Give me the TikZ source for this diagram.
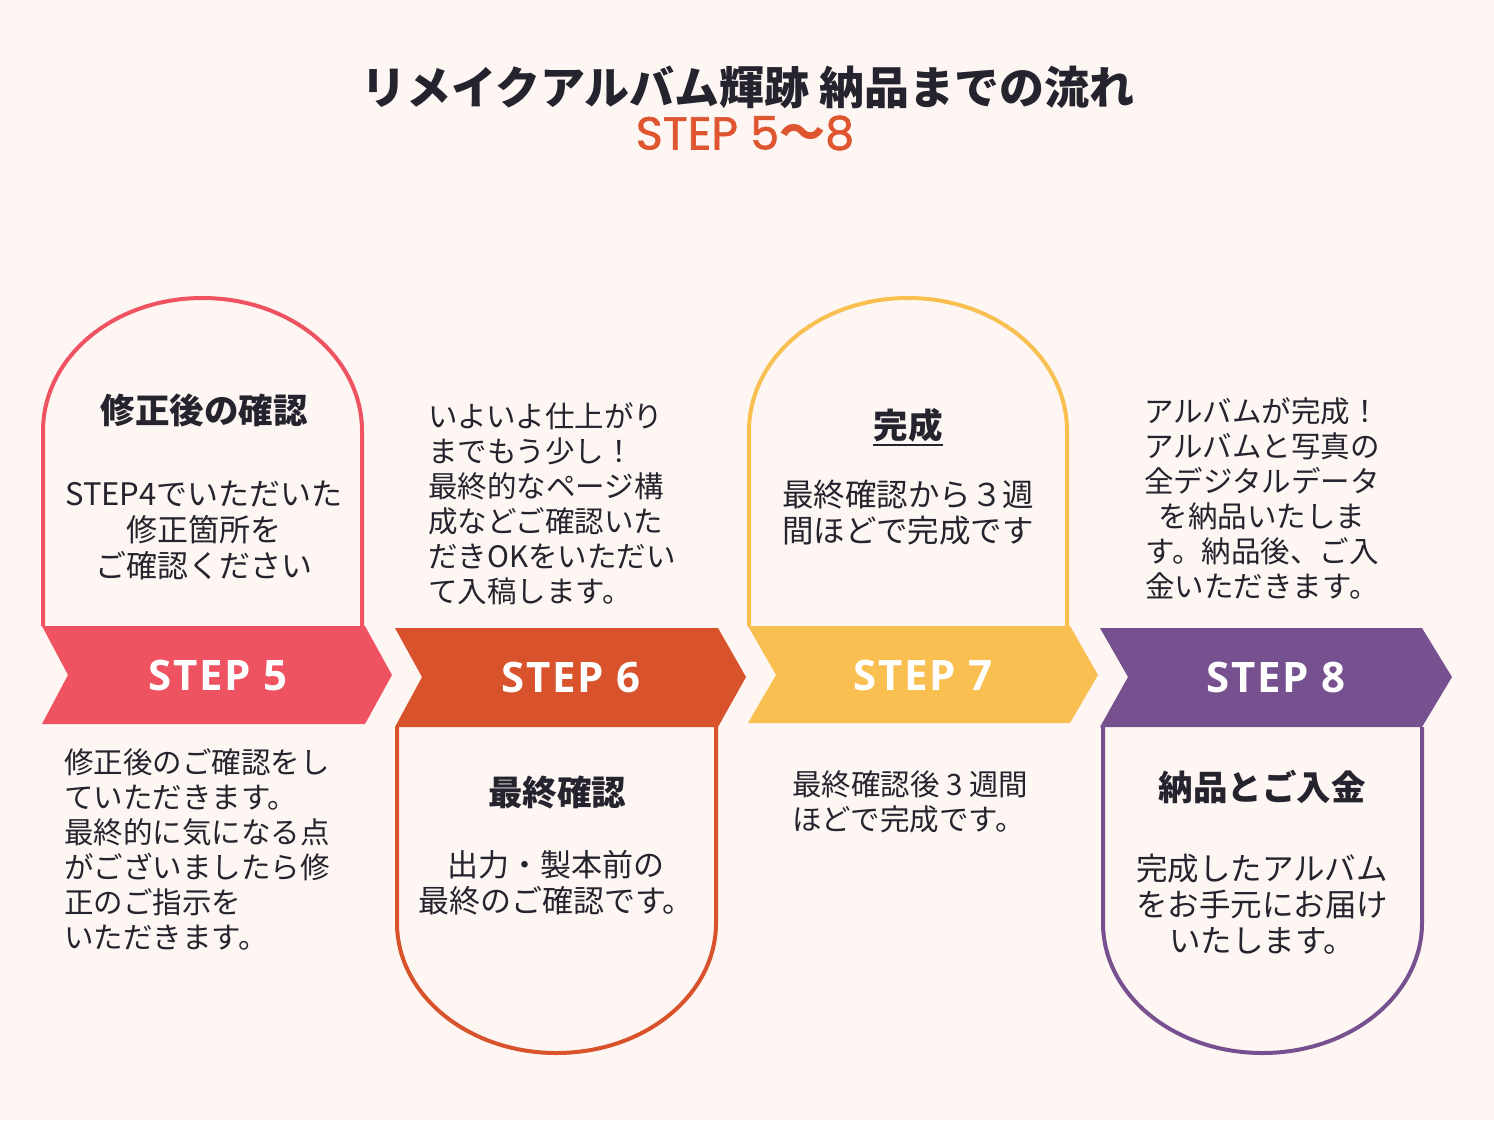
\documentclass[tikz,border=0pt]{standalone}
\usepackage{fontspec}
\newfontfamily\cjk{Noto Sans CJK JP}
\newfontfamily\opensans{Open Sans}[LetterSpace=4]
\newfontfamily\poppins{Poppins}[FakeBold=1.4]
\definecolor{bg}{HTML}{FDF6F3}
\definecolor{cfive}{HTML}{EF5261}
\definecolor{csix}{HTML}{D8522C}
\definecolor{cseven}{HTML}{F9BF50}
\definecolor{ceight}{HTML}{77518F}
\definecolor{ink}{HTML}{25232E}
\definecolor{subc}{HTML}{DF5530}
\begin{document}
\begin{tikzpicture}[x=1pt,y=-1pt,
  outline/.style={line width=4pt, fill=bg},
  steplbl/.style={text=white, font=\opensans\bfseries\fontsize{42}{48}\selectfont},
  head/.style={text=ink, font=\cjk\bfseries\fontsize{34.5}{40}\selectfont, inner sep=0pt},
  bodyc/.style={text=ink, align=center, inner sep=0pt, anchor=north},
  bodyl/.style={text=ink, align=left, inner sep=0pt, anchor=north west},
  f29/.style={font=\cjk\fontsize{29.5}{35}\selectfont},
  f30/.style={font=\cjk\fontsize{31}{36}\selectfont},
  f31/.style={font=\cjk\fontsize{31.5}{36}\selectfont}
]
\useasboundingbox (0,0) rectangle (1494,1120);
\fill[bg] (0,0) rectangle (1494,1120);

% title
\node[text=ink, font=\cjk\bfseries\fontsize{45}{52}\selectfont] (title) at (748,87) {リメイクアルバム輝跡 納品までの流れ};
\node[text=subc, font=\poppins\fontsize{46}{52}\selectfont] (sub) at (745,133) {STEP 5{\cjk\bfseries 〜}8};

% arch outlines (top)
\draw[outline, draw=cfive] (43,626) -- (43,431)
  .. controls (43,357.5) and (113.6,298) .. (202.5,298)
  .. controls (291.4,298) and (362,357.5) .. (362,431) -- (362,626);
\draw[outline, draw=cseven] (749,626) -- (749,431)
  .. controls (749,357.5) and (819.1,298) .. (908,298)
  .. controls (996.9,298) and (1067,357.5) .. (1067,431) -- (1067,626);
% arch outlines (bottom)
\draw[outline, draw=csix] (397,727) -- (397,923)
  .. controls (397,994.8) and (468.1,1053) .. (556.5,1053)
  .. controls (644.9,1053) and (716,994.8) .. (716,923) -- (716,727);
\draw[outline, draw=ceight] (1103,727) -- (1103,923)
  .. controls (1103,994.8) and (1174.1,1053) .. (1262.5,1053)
  .. controls (1350.9,1053) and (1422,994.8) .. (1422,923) -- (1422,727);

% bands
\fill[cfive] (42,626) -- (365,626) -- (392,675) -- (365,724) -- (42,724) -- (68,675) -- cycle;
\fill[csix] (395,628) -- (718,628) -- (746,677) -- (718,727) -- (395,727) -- (422,677) -- cycle;
\fill[cseven] (748,626) -- (1070,626) -- (1098,675) -- (1070,723) -- (748,723) -- (776,675) -- cycle;
\fill[ceight] (1100,628) -- (1422,628) -- (1452,677) -- (1422,727) -- (1100,727) -- (1128,677) -- cycle;

\node[steplbl] (l5) at (218,675) {STEP 5};
\node[steplbl] (l6) at (571,677) {STEP 6};
\node[steplbl] (l7) at (923,675) {STEP 7};
\node[steplbl] (l8) at (1276,677) {STEP 8};

% step 5
\node[head] (h5) at (204,410) {修正後の確認};
\node[bodyc, f30] (b5) at (204,480.5) {STEP4でいただいた\\修正箇所を\\ご確認ください};
\node[bodyl, f29] (t5) at (64,748.5) {修正後のご確認をし\\ていただきます。\\最終的に気になる点\\がございましたら修\\正のご指示を\\いただきます。};

% step 6
\node[bodyl, f29] (t6) at (428,402.5) {いよいよ仕上がり\\までもう少し！\\最終的なページ構\\成などご確認いた\\だきOKをいただい\\て入稿します。};
\node[head] (h6) at (557,793) {最終確認};
\node[bodyc, f30] (b6) at (556,850.5) {出力・製本前の\\最終のご確認です。};

% step 7
\node[head] (h7) at (908,425) {完成};
\draw[ink, line width=2.5pt] ([yshift=-3pt]h7.south west) -- ([yshift=-3pt]h7.south east);
\node[bodyl, f31] (b7) at (782,480) {最終確認から３週\\間ほどで完成です};
\node[bodyl, f29] (t7) at (792,770.5) {最終確認後 3 週間\\ほどで完成です。};

% step 8
\node[bodyc, f29] (t8) at (1262,397.5) {アルバムが完成！\\アルバムと写真の\\全デジタルデータ\\を納品いたしま\\す。納品後、ご入\\金いただきます。};
\node[head] (h8) at (1262,787) {納品とご入金};
\node[bodyc, f31] (b8) at (1262,854) {完成したアルバム\\をお手元にお届け\\いたします。};
\end{tikzpicture}
\end{document}
